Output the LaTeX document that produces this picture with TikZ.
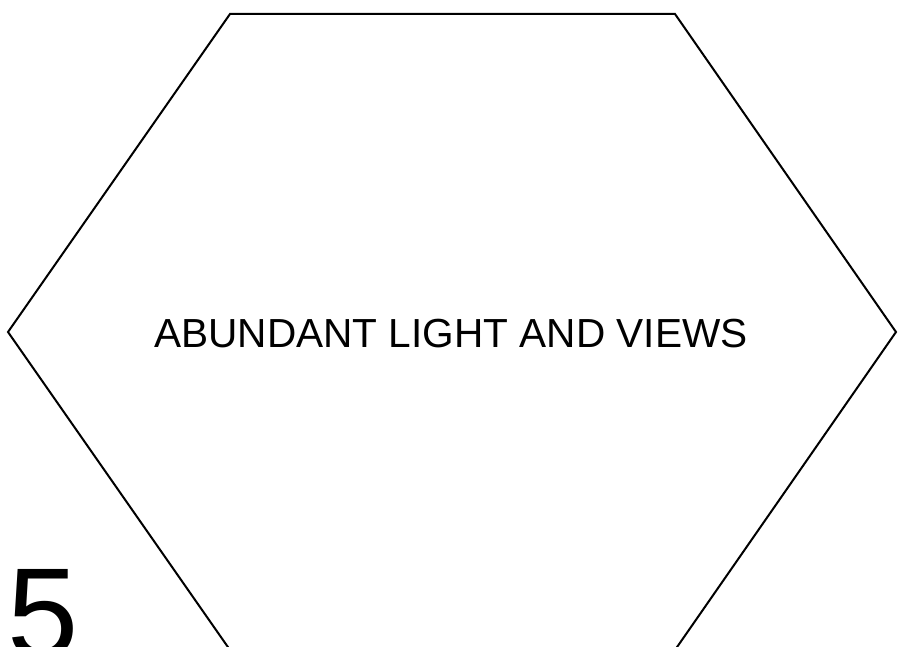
\documentclass[tikz,border=0pt]{standalone}
\usepackage{fontspec}
\setmainfont{Liberation Sans}
\tikzset{
  hexline/.style={draw=black, line width=2pt, line join=miter},
  label/.style={inner sep=0pt, font=\fontsize{40.6}{48}\selectfont},
  bignum/.style={inner sep=0pt, anchor=base west, font=\fontsize{128}{140}\selectfont}
}
\begin{document}
\begin{tikzpicture}[x=1pt,y=-1pt]
\useasboundingbox (0,0) rectangle (898,647);
\clip (0,0) rectangle (898,647);
\fill[white] (0,0) rectangle (898,647);
\coordinate (h1) at (230,14);
\coordinate (h2) at (675,14);
\coordinate (h3) at (896,332);
\coordinate (h4) at (675,650);
\coordinate (h5) at (230,650);
\coordinate (h6) at (8,332);
\draw[hexline] (h1) -- (h2) -- (h3) -- (h4) -- (h5) -- (h6) -- cycle;
\node[label] (title) at (451,333.5) {ABUNDANT LIGHT AND VIEWS};
\node[bignum] (num) at (7.5,657) {5};
\end{tikzpicture}
\end{document}
